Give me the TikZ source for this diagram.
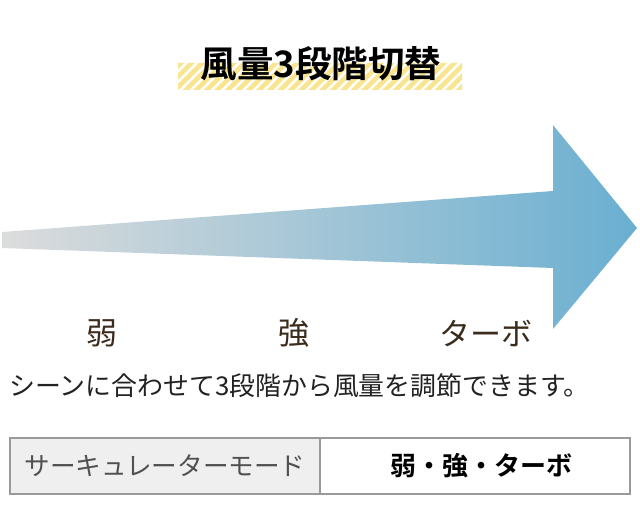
\documentclass[tikz,border=0pt]{standalone}
\usepackage{fontspec}
\setmainfont{Noto Sans CJK JP}[BoldFont={Noto Sans CJK JP Bold}]
\definecolor{stripeY}{HTML}{F9E590}
\definecolor{arrowL}{HTML}{DCDCDC}
\definecolor{arrowM}{HTML}{B3CEDA}
\definecolor{arrowR}{HTML}{6AAFD1}
\definecolor{lblC}{HTML}{3B2B1C}
\definecolor{txtC}{HTML}{222222}
\definecolor{cellBorder}{HTML}{999999}
\definecolor{cellFill}{HTML}{EFEFEF}
\definecolor{cellTxt}{HTML}{505050}
\tikzset{
  stripe/.style={fill=stripeY, draw=none},
  titletxt/.style={font=\fontsize{36.5}{40}\selectfont\bfseries, text=black, inner sep=0pt},
  lbl/.style={font=\fontsize{31}{34}\selectfont, text=lblC, inner sep=0pt},
  bodytxt/.style={font=\fontsize{25.9}{28}\selectfont, text=txtC, inner sep=0pt},
  cell/.style={draw=cellBorder, line width=1.2pt, minimum width=310pt, minimum height=56pt, inner sep=0pt},
}
\begin{document}
\begin{tikzpicture}[x=1pt,y=-1pt]
\useasboundingbox (0,0) rectangle (640,505);
% striped band behind title
\begin{scope}
\clip (178,63) rectangle (462,90);
\foreach \i in {0,...,29} \fill[stripe] ({151+\i*10.5},90) -- ++(6.5,0) -- ++(27,-27) -- ++(-6.5,0) -- cycle;
\end{scope}
\node[titletxt] (title) at (321,64) {風量3段階切替};
% arrow
\shade[left color=arrowL, middle color=arrowM, right color=arrowR]
  (2,232) -- (553,191) -- (553,125) -- (637,228) -- (553,329) -- (553,268) -- (2,248) -- cycle;
% labels
\node[lbl] (weak) at (102,333) {弱};
\node[lbl] (strong) at (294,333) {強};
\node[lbl] (turbo) at (486,333) {ターボ};
% sentence
\node[bodytxt, anchor=west] (desc) at (9,386) {シーンに合わせて3段階から風量を調節できます。};
% table
\node[cell, fill=cellFill, text=cellTxt, font=\fontsize{25.6}{28}\selectfont] (c1) at (165,466) {サーキュレーターモード};
\node[cell] (c2) at (475,466) {};
\node[text=black, font=\fontsize{26}{28}\selectfont\bfseries, inner sep=0pt] (c2txt) at ([xshift=6pt]c2.center) {弱・強・ターボ};
\end{tikzpicture}
\end{document}
